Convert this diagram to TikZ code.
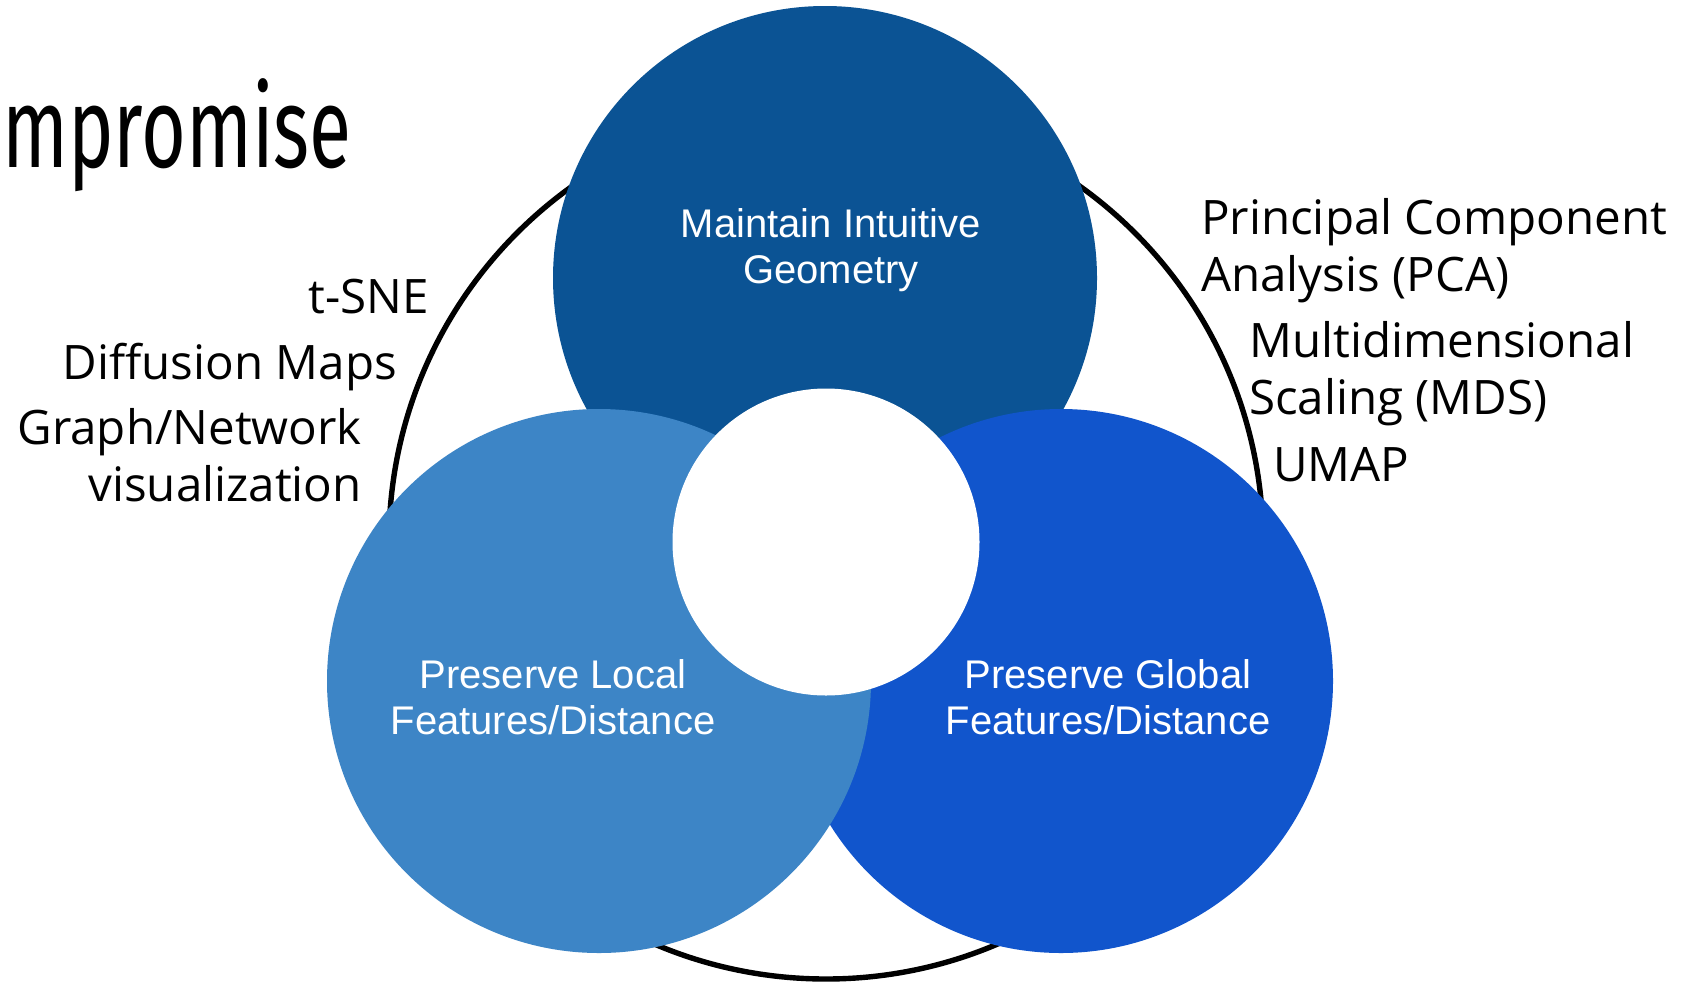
\documentclass[tikz,border=0pt]{standalone}
\usepackage{fontspec}
\setmainfont{Open Sans}
\newfontfamily\methodfont{Open Sans}
\newfontfamily\goalfont{Liberation Sans}
\newfontfamily\headfont[FakeStretch=0.675]{Fira Sans}
\definecolor{geomblue}{HTML}{0B5394}
\definecolor{localblue}{HTML}{3D85C6}
\definecolor{globalblue}{HTML}{1155CC}

\begin{document}
\begin{tikzpicture}[x=1pt,y=-1pt,
  disc/.style={circle, inner sep=0pt, minimum size=544pt},
  goal/.style={font=\fontsize{40}{46}\goalfont, text=white, align=center, inner sep=0pt, anchor=base},
  method/.style={font=\fontsize{47.5}{57}\methodfont, text=black, inner sep=0pt},
]
\useasboundingbox (0,0) rectangle (1694,983);
\fill[white] (0,0) rectangle (1694,983);

% heading, cut at the left border
\node[font=\fontsize{114}{120}\headfont, inner sep=0pt, anchor=base west] (head) at (2,167) {mpromise};

% outer ring and the three goal discs
\node[circle, draw=black, line width=5.4pt, inner sep=0pt, minimum size=874pt] (ring) at (826,542) {};
\node[disc, fill=geomblue] (geom) at (825,278) {};
\node[disc, fill=globalblue] (glob) at (1061,681) {};
\node[disc, fill=localblue] (loc) at (599,681) {};
\node[circle, fill=white, inner sep=0pt, minimum size=307pt] (core) at (826,542) {};

% goal labels (base = baseline of the last line)
\node[goal] (geomtxt) at (831,283) {Maintain Intuitive\\Geometry};
\node[goal] (loctxt) at (553,734) {Preserve Local\\Features/Distance};
\node[goal] (globtxt) at (1108,734) {Preserve Global\\Features/Distance};

% methods on the left
\node[method, anchor=base east] (tsne) at (429,313) {t-SNE};
\node[method, anchor=base east] (dmaps) at (397,379) {Diffusion Maps};
\node[method, anchor=base east, align=right] (graph) at (362,501) {Graph/Network\\visualization};

% methods on the right
\node[method, anchor=base west, align=left] (pca) at (1201,291) {Principal Component\\Analysis (PCA)};
\node[method, anchor=base west, align=left] (mds) at (1249,414) {Multidimensional\\Scaling (MDS)};
\node[method, anchor=base west] (umap) at (1273,481) {UMAP};
\end{tikzpicture}
\end{document}
